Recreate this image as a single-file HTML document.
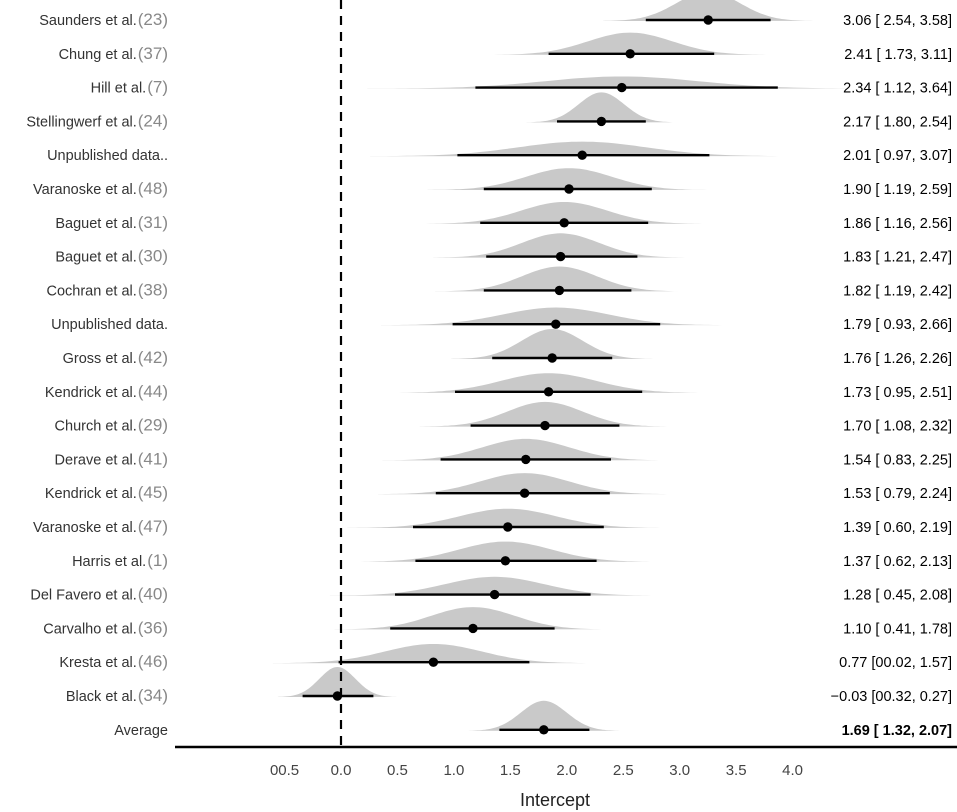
<!DOCTYPE html>
<html><head><meta charset="utf-8"><style>
html,body{margin:0;padding:0;background:#fff;}
svg{display:block;font-family:"Liberation Sans",Arial,sans-serif;}
</style></head><body>
<svg id="chart" width="957" height="812" viewBox="0 0 957 812" xmlns="http://www.w3.org/2000/svg"></svg>
<script>
const studies=["Saunders et al.","Chung et al.","Hill et al.","Stellingwerf et al.","Unpublished data..","Varanoske et al.","Baguet et al.","Baguet et al.","Cochran et al.","Unpublished data.","Gross et al.","Kendrick et al.","Church et al.","Derave et al.","Kendrick et al.","Varanoske et al.","Harris et al.","Del Favero et al.","Carvalho et al.","Kresta et al.","Black et al.","Average"];
const refs=["(23)","(37)","(7)","(24)","","(48)","(31)","(30)","(38)","","(42)","(44)","(29)","(41)","(45)","(47)","(1)","(40)","(36)","(46)","(34)",""];
const means=[3.06,2.41,2.34,2.17,2.01,1.90,1.86,1.83,1.82,1.79,1.76,1.73,1.70,1.54,1.53,1.39,1.37,1.28,1.10,0.77,-0.03,1.69];
const lows=[2.54,1.73,1.12,1.80,0.97,1.19,1.16,1.21,1.19,0.93,1.26,0.95,1.08,0.83,0.79,0.60,0.62,0.45,0.41,-0.02,-0.32,1.32];
const highs=[3.58,3.11,3.64,2.54,3.07,2.59,2.56,2.47,2.42,2.66,2.26,2.51,2.32,2.25,2.24,2.19,2.13,2.08,1.78,1.57,0.27,2.07];
const valueLabels=["3.06 [ 2.54, 3.58]","2.41 [ 1.73, 3.11]","2.34 [ 1.12, 3.64]","2.17 [ 1.80, 2.54]","2.01 [ 0.97, 3.07]","1.90 [ 1.19, 2.59]","1.86 [ 1.16, 2.56]","1.83 [ 1.21, 2.47]","1.82 [ 1.19, 2.42]","1.79 [ 0.93, 2.66]","1.76 [ 1.26, 2.26]","1.73 [ 0.95, 2.51]","1.70 [ 1.08, 2.32]","1.54 [ 0.83, 2.25]","1.53 [ 0.79, 2.24]","1.39 [ 0.60, 2.19]","1.37 [ 0.62, 2.13]","1.28 [ 0.45, 2.08]","1.10 [ 0.41, 1.78]","0.77 [00.02, 1.57]","\u22120.03 [00.32, 0.27]","1.69 [ 1.32, 2.07]"];
const ticks=[-0.5,0,0.5,1,1.5,2,2.5,3,3.5,4];
const tickLabels=["00.5","0.0","0.5","1.0","1.5","2.0","2.5","3.0","3.5","4.0"];

const NS="http://www.w3.org/2000/svg";
const svg=document.getElementById('chart');
const X=v=>341+v*120;
const TX=v=>341+v*112.9;
const Y=i=>17+i*33.8;
function mk(tag,attrs){const e=document.createElementNS(NS,tag);for(const k in attrs)e.setAttribute(k,attrs[k]);svg.appendChild(e);return e;}

means.forEach((m,i)=>{
  const sd=(highs[i]-lows[i])/3.92;
  const h=Math.min(30,7.8/sd);
  const base=Y(i)+4;
  let d=`M${X(m-3.3*sd)},${base}`;
  for(let k=0;k<=80;k++){const v=m-3.3*sd+6.6*sd*k/80;const z=(v-m)/sd;d+=` L${X(v).toFixed(1)},${(base-h*Math.exp(-z*z/2)).toFixed(1)}`;}
  d+=' Z';
  const p=mk('path',{d:d,fill:'#c9c9c9'});
  
  
});
const zl=mk('line',{x1:X(0),x2:X(0),y1:0,y2:746,stroke:'#000','stroke-width':2.2,'stroke-dasharray':'9,7'});


means.forEach((m,i)=>{
  const l=mk('line',{x1:X(lows[i]),x2:X(highs[i]),y1:Y(i)+3,y2:Y(i)+3,stroke:'#000','stroke-width':2.4});
  
  
  const c=mk('circle',{cx:X(m),cy:Y(i)+3,r:4.7,fill:'#000'});
  
  
  const t=mk('text',{x:168,y:Y(i)+8,'text-anchor':'end','font-size':14.5,fill:'#333'});
  
  
  t.textContent=studies[i];
  if(refs[i]){const s=document.createElementNS(NS,'tspan');s.setAttribute('fill','#888');s.setAttribute('font-size','17');s.setAttribute('dx','1');s.textContent=refs[i];t.appendChild(s);}
  const v=mk('text',{x:952,y:Y(i)+8,'text-anchor':'end','font-size':14.5,fill:'#000','font-weight':i===means.length-1?'bold':'normal'});
  
  
  v.setAttribute('xml:space','preserve');
  v.textContent=valueLabels[i];
});
const ax=mk('line',{x1:175,x2:957,y1:747,y2:747,stroke:'#000','stroke-width':2.6});


ticks.forEach((t,i)=>{
  const tl=mk('text',{x:TX(t),y:775,'text-anchor':'middle','font-size':15,fill:'#444'});
  
  
  tl.textContent=tickLabels[i];
});
const tt=mk('text',{x:555,y:806,'text-anchor':'middle','font-size':18,fill:'#222'});


tt.textContent='Intercept';
</script>
</body></html>
